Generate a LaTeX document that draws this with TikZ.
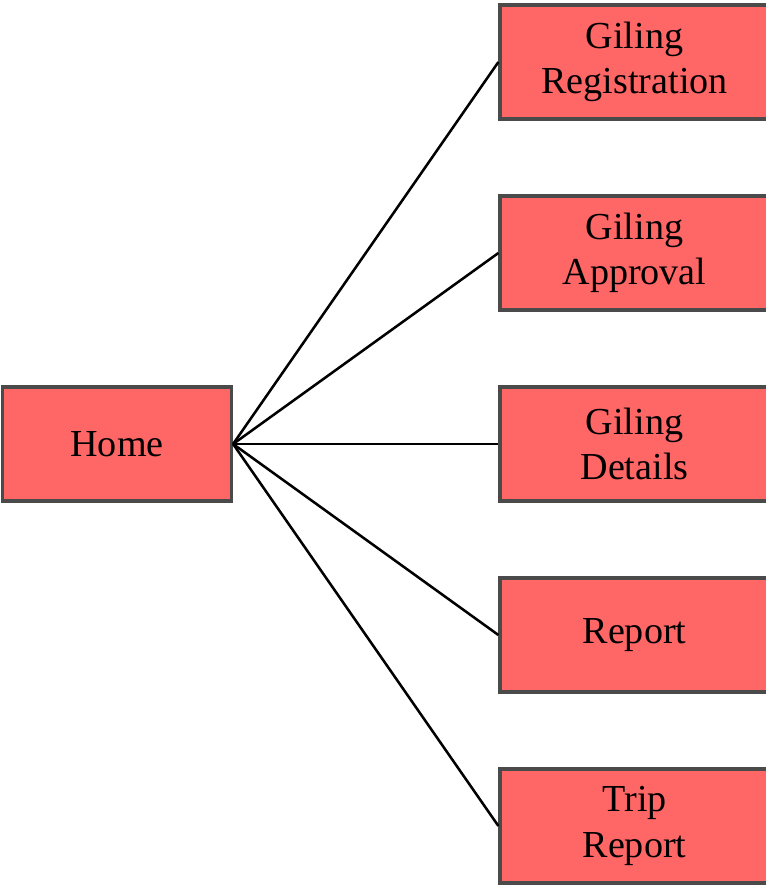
\documentclass[tikz,border=0pt]{standalone}
\usepackage{fontspec}
\setmainfont{Liberation Serif}
\definecolor{boxfill}{HTML}{FF6666}
\definecolor{boxline}{HTML}{4A4A4A}
\begin{document}
\begin{tikzpicture}[x=0.75pt,y=-0.75pt,
  menubox/.style={draw=boxline,line width=2.4pt,fill=boxfill,minimum width=229*0.75pt,
    minimum height=114*0.75pt,inner sep=0pt,align=center,
    font=\fontsize{28.6}{34}\selectfont},
  itembox/.style={menubox,minimum width=269*0.75pt},
  link/.style={black,line width=1.9pt}]
\useasboundingbox (0,0) rectangle (766,885);
\node[menubox] (home) at (117,444) {Home};
\node[itembox] (reg) at (634.5,62) {Giling\\Registration};
\node[itembox] (appr) at (634.5,253) {Giling\\Approval};
\node[itembox] (det) at (634.5,444) {Giling\\Details};
\node[itembox] (rep) at (634.5,635) {Report};
\node[itembox] (trip) at (634.5,826) {Trip\\Report};
\foreach \t in {reg,appr,det,rep,trip}
  \draw[link] (home.east) -- (\t.west);
\end{tikzpicture}
\end{document}
